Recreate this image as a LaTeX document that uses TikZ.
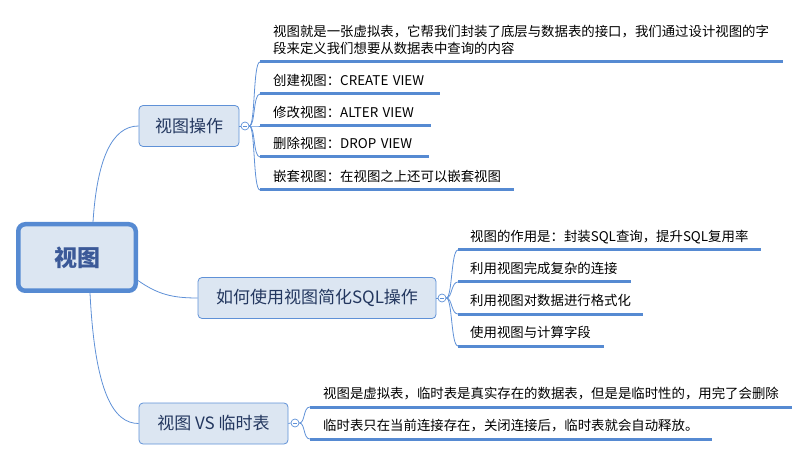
\documentclass[tikz,border=0pt]{standalone}
\usepackage{fontspec}
\setmainfont{Noto Sans CJK SC}
\definecolor{ublue}{RGB}{86,138,210}
\definecolor{cblue}{RGB}{95,145,215}
\definecolor{boxfill}{RGB}{220,230,242}
\definecolor{btext}{RGB}{35,55,95}
\definecolor{rtext}{RGB}{59,89,152}
\tikzset{
  conn/.style={draw=cblue, line width=0.8pt},
  rootbox/.style={draw=ublue, line width=4.5pt, fill=boxfill, rounded corners=7pt,
    minimum width=117.5pt, minimum height=66.5pt, inner sep=0pt,
    font=\fontsize{23}{26}\selectfont\bfseries, text=rtext},
  branch/.style={draw=cblue, line width=0.8pt, fill=boxfill, rounded corners=4pt,
    minimum height=41pt, inner sep=0pt, font=\fontsize{17}{20}\selectfont, text=btext},
  fold/.style={circle, draw=cblue, fill=white, line width=0.7pt, minimum size=8pt, inner sep=0pt,
    path picture={\draw[cblue, line width=0.6pt] ([xshift=-2pt]path picture bounding box.center) -- ([xshift=2pt]path picture bounding box.center);}},
  leaf/.style={anchor=south west, inner xsep=13pt, inner ysep=5pt, text depth=3pt,
    align=left, text width=#1, font=\fontsize{13.4}{17}\selectfont, text=black,
    append after command={(\tikzlastnode.south west) edge[draw=ublue, line width=3pt] (\tikzlastnode.south east)}},
}
\begin{document}
\begin{tikzpicture}[x=1pt,y=-1pt]
\useasboundingbox (0,0) rectangle (811,462);
% root
\node[rootbox] (root) at (77,257.5) {视图};
% branches
\node[branch, minimum width=100pt] (b1) at (189,126) {视图操作};
\node[branch, minimum width=238pt] (b2) at (317,298) {如何使用视图简化SQL操作};
\node[branch, minimum width=149pt] (b3) at (213.5,423.5) {视图 VS 临时表};
% root connectors
\draw[conn] ([xshift=16pt]root.north) .. controls +(4,-62) and +(-27,0) .. (b1.west);
\draw[conn] ([yshift=-23pt]root.east) .. controls +(20,14) and +(-25,0) .. (b2.west);
\draw[conn] ([xshift=13pt]root.south) .. controls +(5,100) and +(-25,0) .. (b3.west);
% fold circles
\node[fold] (c1) at (245,126) {};
\node[fold] (c2) at (442,298) {};
\node[fold] (c3) at (295,423) {};
\draw[conn] (b1.east) -- (c1.west);
\draw[conn] (b2.east) -- (c2.west);
\draw[conn] (b3.east) -- (c3.west);
% leaves of branch 1
\node[leaf=497pt, text depth=20pt] (l11) at (260,62) {视图就是一张虚拟表，它帮我们封装了底层与数据表的接口，我们通过设计视图的字\\段来定义我们想要从数据表中查询的内容};
\node[leaf=154pt] (l12) at (260,94) {创建视图：CREATE VIEW};
\node[leaf=145pt] (l13) at (260,126) {修改视图：ALTER VIEW};
\node[leaf=143pt] (l14) at (260,157) {删除视图：DROP VIEW};
\node[leaf=228pt] (l15) at (260,190) {嵌套视图：在视图之上还可以嵌套视图};
% leaves of branch 2
\node[leaf=279pt, inner xsep=12pt] (l21) at (458,250) {视图的作用是：封装SQL查询，提升SQL复用率};
\node[leaf=149pt, inner xsep=12pt] (l22) at (458,282) {利用视图完成复杂的连接};
\node[leaf=161pt, inner xsep=12pt] (l23) at (458,314) {利用视图对数据进行格式化};
\node[leaf=122pt, inner xsep=12pt] (l24) at (458,346) {使用视图与计算字段};
% leaves of branch 3
\node[leaf=456pt] (l31) at (310,407) {视图是虚拟表，临时表是真实存在的数据表，但是是临时性的，用完了会删除};
\node[leaf=376pt] (l32) at (310,439) {临时表只在当前连接存在，关闭连接后，临时表就会自动释放。};
% leaf connectors
\foreach \l in {l11,l12,l13,l14,l15}
  \draw[conn] (c1.east) .. controls +(6,0) and +(-7,0) .. (\l.south west);
\foreach \l in {l21,l22,l23,l24}
  \draw[conn] (c2.east) .. controls +(6,0) and +(-7,0) .. (\l.south west);
\foreach \l in {l31,l32}
  \draw[conn] (c3.east) .. controls +(6,0) and +(-7,0) .. (\l.south west);
\end{tikzpicture}
\end{document}
